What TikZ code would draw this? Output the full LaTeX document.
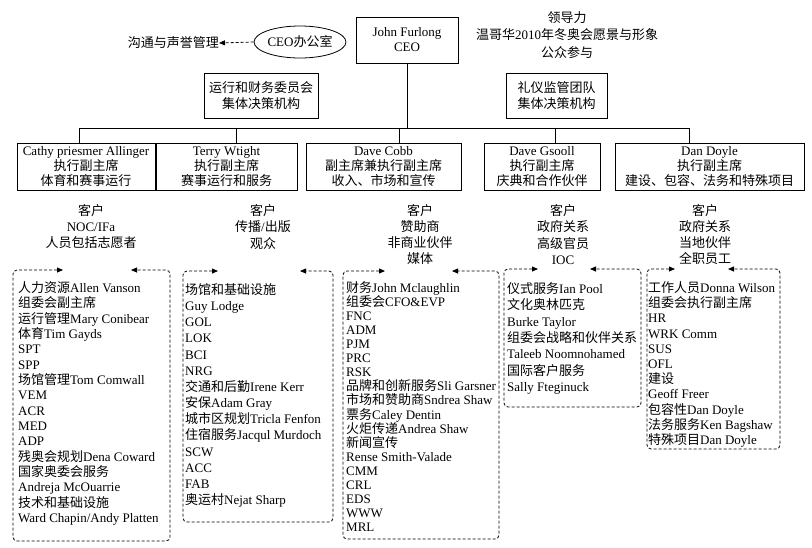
\documentclass[tikz,border=0pt]{standalone}
\usepackage{fontspec}
\setmainfont{Liberation Serif}
\newfontfamily\cjk{Noto Sans CJK SC}
\usetikzlibrary{arrows.meta,shapes.geometric}
\newXeTeXintercharclass\CJKcls
\newcount\cjkcnt
\cjkcnt="3000 \loop\XeTeXcharclass\cjkcnt=\CJKcls\relax\ifnum\cjkcnt<"303F \advance\cjkcnt by 1 \repeat
\cjkcnt="4E00 \loop\XeTeXcharclass\cjkcnt=\CJKcls\relax\ifnum\cjkcnt<"9FFF \advance\cjkcnt by 1 \repeat
\cjkcnt="FF00 \loop\XeTeXcharclass\cjkcnt=\CJKcls\relax\ifnum\cjkcnt<"FFEF \advance\cjkcnt by 1 \repeat
\XeTeXinterchartoks 0 \CJKcls = {\cjk}
\XeTeXinterchartoks 4095 \CJKcls = {\cjk}
\XeTeXinterchartoks \CJKcls 0 = {\rmfamily}
\XeTeXinterchartoks \CJKcls 4095 = {\rmfamily}
\XeTeXinterchartokenstate=1
\tikzset{
  ln/.style={line width=0.8pt},
  bx/.style={draw, line width=0.8pt, align=center, inner sep=0pt, font=\fontsize{13}{15}\selectfont},
  txt/.style={align=center, inner sep=0pt, font=\fontsize{13}{16.3}\selectfont},
  item/.style={anchor=base west, inner sep=0pt, font=\fontsize{13}{15}\selectfont},
  tipa/.tip={Triangle[length=6pt,width=5pt]},
  dbox/.style={dash pattern=on 3pt off 2pt, line width=0.8pt, rounded corners=4pt, tipa-tipa},
  darrow/.style={dash pattern=on 3pt off 2pt, line width=0.8pt, -tipa}
}
\begin{document}
\begin{tikzpicture}[x=1pt,y=-1pt]
\useasboundingbox (0,0) rectangle (812,547);
\fill[white] (0,0) rectangle (812,547);
% top level
\node[bx, minimum width=102pt, minimum height=46pt] (ceo) at (407,40) {John Furlong\\CEO};
\node[draw, ellipse, line width=0.8pt, minimum width=88pt, minimum height=32pt, inner sep=0pt, font=\fontsize{13}{15}\selectfont] (off) at (300,42) {CEO办公室};
\node[inner sep=0pt, anchor=east, font=\fontsize{13}{15}\selectfont] (comm) at (219,43) {沟通与声誉管理};
\draw[darrow] (off.west) -- (comm.east);
\node[txt, font=\fontsize{13}{17.5}\selectfont] (lead) at (567,35) {领导力\\温哥华2010年冬奥会愿景与形象\\公众参与};
\node[bx, minimum width=114pt, minimum height=45pt, font=\fontsize{13}{16}\selectfont] (cm1) at (261,95.5) {运行和财务委员会\\集体决策机构};
\node[bx, minimum width=101pt, minimum height=45pt, font=\fontsize{13}{16}\selectfont] (cm2) at (556.5,95.5) {礼仪监管团队\\集体决策机构};
% VP boxes
\node[bx, minimum width=138pt, minimum height=47pt] (vp1) at (86,167) {Cathy priesmer Allinger\\执行副主席\\体育和赛事运行};
\node[bx, minimum width=141pt, minimum height=47pt] (vp2) at (226.5,167) {Terry Wtight\\执行副主席\\赛事运行和服务};
\node[bx, minimum width=155pt, minimum height=47pt] (vp3) at (383.5,167) {Dave Cobb\\副主席兼执行副主席\\收入、市场和宣传};
\node[bx, minimum width=116pt, minimum height=47pt] (vp4) at (542,167) {Dave Gsooll\\执行副主席\\庆典和合作伙伴};
\node[bx, minimum width=189pt, minimum height=47pt] (vp5) at (709.5,167) {Dan Doyle\\执行副主席\\建设、包容、法务和特殊项目};
% bus
\coordinate (d1) at (79,128);
\coordinate (d2) at (236,128);
\coordinate (d3) at (399,128);
\coordinate (d4) at (555,128);
\coordinate (d5) at (689,128);
\draw[ln] (ceo.south) -- (ceo.south |- d1);
\draw[ln] (d1) -- (d5);
\draw[ln] (d1) -- (d1 |- vp1.north);
\draw[ln] (d2) -- (d2 |- vp2.north);
\draw[ln] (d3) -- (d3 |- vp3.north);
\draw[ln] (d4) -- (d4 |- vp4.north);
\draw[ln] (d5) -- (d5 |- vp5.north);
% clients
\node[txt] (c1) at (91,226.7) {客户\\NOC/IFa\\人员包括志愿者};
\node[txt] (c2) at (263,226.7) {客户\\传播/出版\\观众};
\node[txt] (c3) at (420,234.5) {客户\\赞助商\\非商业伙伴\\媒体};
\node[txt] (c4) at (563,234.5) {客户\\政府关系\\高级官员\\IOC};
\node[txt] (c5) at (705,234.5) {客户\\政府关系\\当地伙伴\\全职员工};
% dashed boxes
\draw[dbox] (63,270) -- (13,270) -- (13,541) -- (170,541) -- (170,270) -- (131,270);
\draw[dbox] (218,271) -- (183,271) -- (183,522) -- (333,522) -- (333,271) -- (300,271);
\draw[dbox] (385,271) -- (343,271) -- (343,539) -- (499,539) -- (499,271) -- (452,271);
\draw[dbox] (538,269) -- (504,269) -- (504,407) -- (641,407) -- (641,269) -- (590,269);
\draw[dbox] (675,269) -- (647,269) -- (647,449) -- (780,449) -- (780,269) -- (728,269);
\foreach \t [count=\i] in {人力资源Allen Vanson,组委会副主席,运行管理Mary Conibear,体育Tim Gayds,SPT,SPP,场馆管理Tom Comwall,VEM,ACR,MED,ADP,残奥会规划Dena Coward,国家奥委会服务,Andreja McOuarrie,技术和基础设施,Ward Chapin/Andy Platten}
  \node[item] (a\i) at (18,{292.5+15.33*(\i-1)}) {\t};
\foreach \t [count=\i] in {场馆和基础设施,Guy Lodge,GOL,LOK,BCI,NRG,交通和后勤Irene Kerr,安保Adam Gray,城市区规划Tricla Fenfon,住宿服务Jacqul Murdoch,SCW,ACC,FAB,奥运村Nejat Sharp}
  \node[item] (b\i) at (185,{294.5+16.15*(\i-1)}) {\t};
\foreach \t [count=\i] in {财务John Mclaughlin,组委会CFO\&EVP,FNC,ADM,PJM,PRC,RSK,品牌和创新服务Sli Garsner,市场和赞助商Sndrea Shaw,票务Caley Dentin,火炬传递Andrea Shaw,新闻宣传,Rense Smith-Valade,CMM,CRL,EDS,WWW,MRL}
  \node[item] (e\i) at (346,{292.5+14.06*(\i-1)}) {\t};
\foreach \t [count=\i] in {仪式服务Ian Pool,文化奥林匹克,Burke Taylor,组委会战略和伙伴关系,Taleeb Noomnohamed,国际客户服务,Sally Fteginuck}
  \node[item] (f\i) at (507,{293.5+16.3*(\i-1)}) {\t};
\foreach \t [count=\i] in {工作人员Donna Wilson,组委会执行副主席,HR,WRK Comm,SUS,OFL,建设,Geoff Freer,包容性Dan Doyle,法务服务Ken Bagshaw,特殊项目Dan Doyle}
  \node[item] (g\i) at (648,{292.5+15.2*(\i-1)}) {\t};
\end{tikzpicture}
\end{document}
